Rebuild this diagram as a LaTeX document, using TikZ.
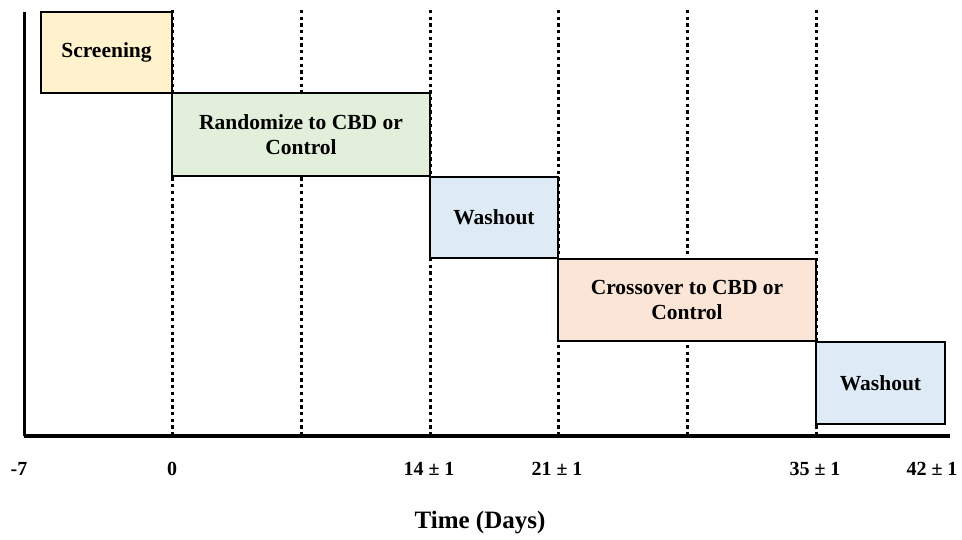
\documentclass[tikz,border=0pt]{standalone}
\usepackage{fontspec}
\setmainfont{Liberation Serif}
\usetikzlibrary{positioning}

\definecolor{screenfill}{HTML}{FFF2CC}
\definecolor{randfill}{HTML}{E2EFDA}
\definecolor{washfill}{HTML}{DEEBF7}
\definecolor{crossfill}{HTML}{FBE5D6}

\begin{document}
\begin{tikzpicture}[x=1pt,y=-1pt,
    phase/.style={draw,line width=2pt,align=center,inner sep=0pt,
        font=\fontsize{21.5}{25}\selectfont\bfseries},
    tick/.style={font=\fontsize{20}{22}\selectfont\bfseries},
    grid/.style={line width=3pt,dash pattern=on 3.3pt off 3.4pt}]
    \useasboundingbox (0,0) rectangle (962,540);

    % dotted day lines
    \foreach \xx in {172,301,430,558,687,816}
        \draw [grid] (\xx,10) -- (\xx,435);

    % axes
    \coordinate (top) at (24,12);
    \coordinate (origin) at (24,436);
    \coordinate (right) at (950,436);
    \draw [line width=3pt] (top) -- (origin);
    \draw [line width=3.5pt] (origin) -- (right);

    % phases
    \node [phase,fill=screenfill,minimum width=131pt,minimum height=81pt] (screen) at (106.5,52.5) {Screening};
    \node [phase,fill=randfill,minimum width=258pt,minimum height=83pt] (rand) at (301,134.5) {Randomize to CBD or\\Control};
    \node [phase,fill=washfill,minimum width=128pt,minimum height=81pt] (wash1) at (494,217.5) {Washout};
    \node [phase,fill=crossfill,minimum width=258pt,minimum height=82pt] (cross) at (687,300) {Crossover to CBD or\\Control};
    \node [phase,fill=washfill,minimum width=129pt,minimum height=82pt] (wash2) at (880.5,383) {Washout};

    % day labels
    \node [tick] (dm7) at (19,469) {-7};
    \node [tick] (d0) at (172,469) {0};
    \node [tick] (d14) at (429,469) {14 ± 1};
    \node [tick] (d21) at (557,469) {21 ± 1};
    \node [tick] (d35) at (815,469) {35 ± 1};
    \node [tick] (d42) at (932,469) {42 ± 1};

    \node [font=\fontsize{25}{29}\selectfont\bfseries] (xlabel) at (480,523) {Time (Days)};
\end{tikzpicture}
\end{document}
